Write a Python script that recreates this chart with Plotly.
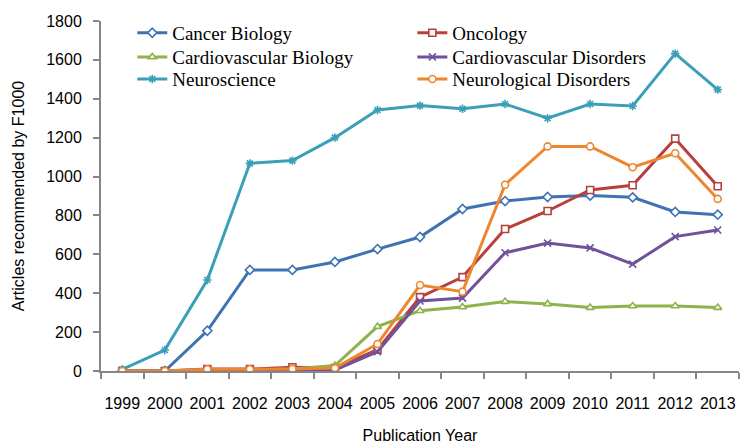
import plotly.graph_objects as go

years = ["1999", "2000", "2001", "2002", "2003", "2004", "2005", "2006",
         "2007", "2008", "2009", "2010", "2011", "2012", "2013"]

cancer_biology = [0, 0, 207, 520, 520, 561, 627, 689, 833, 874, 895, 902, 893, 818, 804]
oncology = [0, 0, 10, 10, 19, 15, 110, 380, 483, 730, 823, 931, 955, 1195, 950]
cardio_biology = [0, 0, 0, 5, 10, 28, 228, 310, 329, 357, 345, 326, 334, 334, 326]
cardio_disorders = [0, 0, 0, 0, 5, 5, 99, 360, 375, 608, 658, 633, 550, 691, 725]
neuroscience = [8, 108, 468, 1068, 1082, 1200, 1342, 1365, 1349, 1373, 1300, 1373, 1363, 1632, 1447]
neuro_disorders = [0, 0, 9, 9, 10, 15, 139, 442, 408, 958, 1155, 1155, 1048, 1120, 885]

series = [
    ("Cancer Biology", cancer_biology, "#3E73B3", "diamond"),
    ("Oncology", oncology, "#B8403C", "square"),
    ("Cardiovascular Biology", cardio_biology, "#8DB34D", "triangle-up"),
    ("Cardiovascular Disorders", cardio_disorders, "#72519B", "x-thin-open"),
    ("Neuroscience", neuroscience, "#3B9FB8", "asterisk-open"),
    ("Neurological Disorders", neuro_disorders, "#EE8630", "circle"),
]

# one legend per entry so rows can be spaced like the reference
legend_ids = ["legend2", "legend3", "legend4", "legend5", "legend6", "legend7"]
col1_x, col2_x = 0.049, 0.488
legend_pos = [(col1_x, 0.966), (col2_x, 0.966),
              (col1_x, 0.897), (col2_x, 0.897),
              (col1_x, 0.834), (col2_x, 0.834)]

fig = go.Figure()
for (name, vals, color, sym), leg in zip(series, legend_ids):
    open_sym = sym.endswith("-open")
    fig.add_trace(go.Scatter(
        x=years, y=vals, name=name, mode="lines+markers",
        line=dict(color=color, width=3),
        marker=dict(symbol=sym, size=7,
                    color=color if open_sym else "white",
                    line=dict(color=color, width=1.6)),
        legend=leg,
    ))

legend_font = dict(family="Liberation Serif, Times New Roman, serif", size=19, color="#000")
layout_legends = {}
for leg, (lx, ly) in zip(legend_ids, legend_pos):
    layout_legends[leg] = dict(x=lx, y=ly, xanchor="left", yanchor="middle",
                               font=legend_font, bgcolor="rgba(0,0,0,0)",
                               itemwidth=30)

fig.update_layout(
    width=740, height=444,
    margin=dict(l=101, r=1, t=21, b=73, autoexpand=False),
    paper_bgcolor="white", plot_bgcolor="white",
    font=dict(family="Liberation Sans, Arial, sans-serif", size=16, color="#000"),
    **layout_legends,
    xaxis=dict(
        type="category", showline=True, linecolor="#868686", linewidth=2,
        ticks="outside", ticklen=6, tickcolor="#868686", tickwidth=1.5,
        tickson="boundaries", showgrid=False, zeroline=False,
        tickfont=dict(size=16), tickangle=0, ticklabelstandoff=17,
        title=dict(text="Publication Year", font=dict(size=16), standoff=21),
        range=[-0.5, 14.5],
    ),
    yaxis=dict(
        range=[0, 1800], dtick=200, showline=True, linecolor="#868686", linewidth=2,
        ticks="outside", ticklen=6, tickcolor="#868686", tickwidth=1.5,
        showgrid=False, zeroline=False, tickfont=dict(size=16),
        ticklabelstandoff=8,
        title=dict(text="Articles recommended by F1000", font=dict(size=16), standoff=18),
    ),
)

fig.write_html("out.html", config={"displayModeBar": False},
               post_script="document.body.style.margin='0';")
